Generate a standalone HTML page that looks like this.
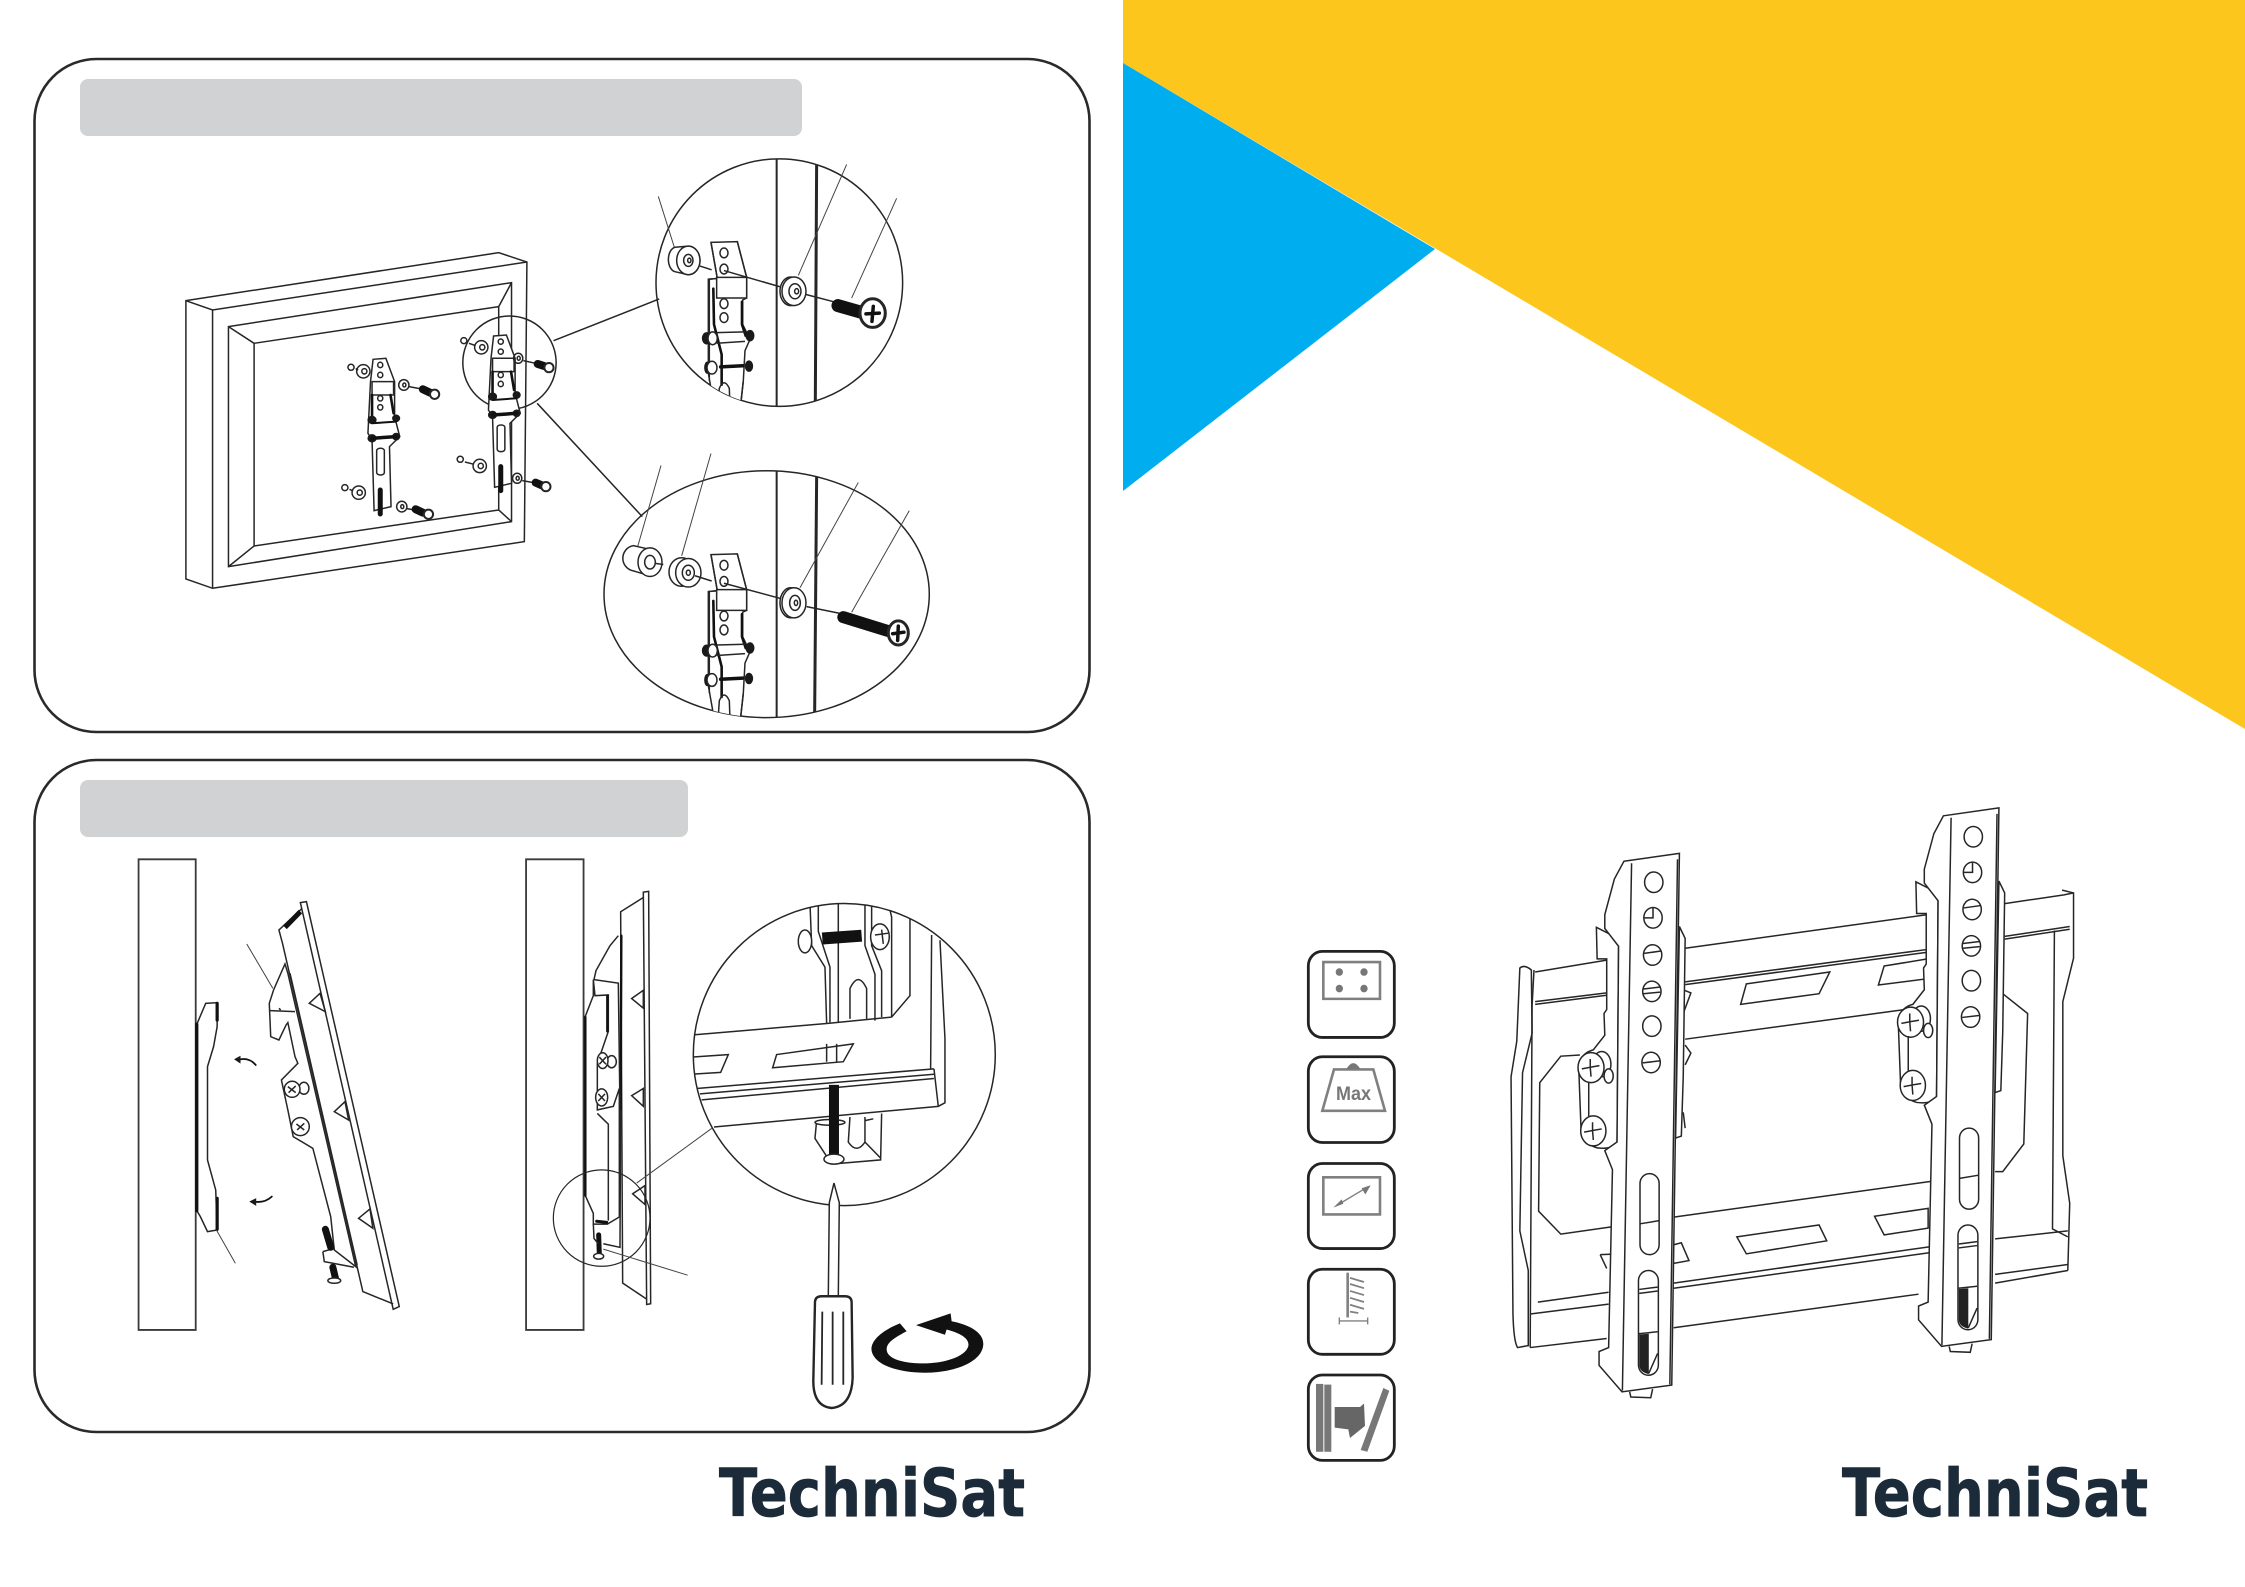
<!DOCTYPE html>
<html lang="en"><head><meta charset="utf-8"><title>Wall mount instructions</title>
<style>
html,body{margin:0;padding:0;background:#fff}
svg{display:block}
svg *{vector-effect:non-scaling-stroke}
.l{fill:none;stroke:#262626;stroke-width:1.5}
.w{fill:#fff;stroke:#262626;stroke-width:1.5}
.t{fill:none;stroke:#444;stroke-width:1}
.k{fill:none;stroke:#111;stroke-linecap:round}
.b{fill:#1a1a1a;stroke:#1a1a1a;stroke-width:1}
.g{fill:none;stroke:#808080;stroke-width:2.6}
.f{fill:#777;stroke:none}
.logo{font-family:"DejaVu Sans",sans-serif;font-weight:700;font-size:66px;fill:#1c2b39;stroke:#1c2b39;stroke-width:.8}
</style></head><body>
<svg width="2245" height="1587" viewBox="0 0 2245 1587" xmlns="http://www.w3.org/2000/svg">
<defs>
<clipPath id="c1"><ellipse cx="598" cy="379" rx="370" ry="329"/></clipPath>
<clipPath id="c2"><ellipse cx="560" cy="1207" rx="488" ry="328"/></clipPath>
<clipPath id="c3"><ellipse cx="1003" cy="545" rx="453" ry="423"/></clipPath>

<g id="sb">
<path class="w" d="M670 618L695 615L712 685L712 790L722 850L702 880L705 1060L672 1072L668 860L660 840L665 685Z"/>
<rect class="w" x="668" y="685" width="42" height="40"/>
<ellipse class="l" cx="684" cy="635" rx="5" ry="8"/><ellipse class="l" cx="684" cy="665" rx="5" ry="8"/>
<ellipse class="l" cx="684" cy="735" rx="5" ry="8"/><ellipse class="l" cx="684" cy="762" rx="5" ry="8"/>
<path class="k" style="stroke-width:2.6" d="M668 725L668 795M704 725L710 780"/>
<ellipse class="b" cx="668" cy="800" rx="8" ry="11"/><ellipse class="b" cx="715" cy="795" rx="7" ry="10"/>
<ellipse class="b" cx="668" cy="855" rx="8" ry="11"/><ellipse class="b" cx="715" cy="850" rx="7" ry="10"/>
<path class="k" style="stroke-width:2" d="M668 810L715 805"/><path class="k" style="stroke-width:3.5" d="M668 855L715 850"/>
<rect class="l" x="677" y="885" width="15" height="80" rx="7"/>
<path class="k" style="stroke-width:5" d="M684 1010L684 1082"/>
</g>

<g id="bb">
<path class="w" d="M393 272L472 270L500 365L500 420L488 425L488 490L510 530L495 560L490 640L480 720L405 720L385 620L385 370L412 368Z"/>
<path class="l" d="M393 272L412 368M472 270L500 365"/>
<ellipse class="l" cx="432" cy="300" rx="12" ry="13"/><ellipse class="l" cx="432" cy="343" rx="12" ry="13"/>
<rect class="w" x="410" y="365" width="90" height="55"/>
<path class="l" d="M385 370L410 368M388 370L388 640"/>
<path class="k" style="stroke-width:2.6" d="M400 395L402 490L425 570L425 650"/>
<ellipse class="l" cx="432" cy="435" rx="12" ry="13"/><ellipse class="l" cx="432" cy="472" rx="12" ry="13"/>
<path class="k" style="stroke-width:2.6" d="M486 430L486 490L497 520"/>
<ellipse class="b" cx="380" cy="527" rx="13" ry="15"/><ellipse class="w" cx="398" cy="527" rx="14" ry="17"/><ellipse class="b" cx="510" cy="520" rx="12" ry="14"/>
<path class="l" d="M410 512L495 510M410 540L495 535"/>
<ellipse class="b" cx="382" cy="605" rx="8" ry="15"/><ellipse class="w" cx="396" cy="605" rx="15" ry="17"/><ellipse class="b" cx="507" cy="601" rx="11" ry="14"/>
<path class="k" style="stroke-width:3.5" d="M422 603L488 600"/>
<path class="l" d="M415 700L418 660Q432 630 448 660L450 710M490 640L480 720"/>
</g>

<g id="bm">
<path class="w" d="M278 322L325 345L336 370L332 865Q320 885 280 880Q245 870 238 835L232 680Q235 640 270 632L300 595L298 540L305 530L305 402L280 402Z"/>
<path class="w" d="M350 155L495 135L475 1480L345 1497L285 1430L285 1395L310 1385L320 935L300 887L332 865L336 370L300 325L300 290L325 200Z"/>
<path class="l" d="M370 160L346 1494"/>
<path class="l" d="M490 150L470 1478"/>
<path class="w" d="M495 320L510 350L505 700L500 850L485 855Z"/>
<g class="l">
<ellipse cx="428" cy="208" rx="24" ry="26"/>
<ellipse cx="426" cy="298" rx="24" ry="26"/><path d="M426 272L426 298L402 298"/>
<ellipse cx="425" cy="392" rx="24" ry="26"/><path d="M403 388L447 382"/>
<ellipse cx="423" cy="484" rx="24" ry="26"/><path d="M401 478L445 473M401 490L445 486"/>
<ellipse cx="423" cy="572" rx="24" ry="26"/>
<ellipse cx="421" cy="664" rx="24" ry="26"/><path d="M399 665L443 660"/>
<rect x="392" y="945" width="50" height="205" rx="25"/><path d="M392 1072L442 1064"/>
<rect x="388" y="1190" width="52" height="265" rx="26"/><path d="M390 1238L438 1232M390 1248L438 1242M388 1350L438 1345M415 1450L438 1400"/>
</g>
<path d="M390 1352L415 1350L415 1452Q392 1448 390 1430Z" fill="#222"/>
<path class="l" d="M365 1497L368 1510L420 1512L425 1490"/>
<g class="l">
<ellipse class="w" cx="292" cy="668" rx="24" ry="32"/>
<ellipse class="w" cx="310" cy="698" rx="12" ry="18"/>
<ellipse class="w" cx="264" cy="677" rx="34" ry="38"/>
<path d="M240 680L262 676L264 700M262 676L262 655M262 676L286 672"/>
<path d="M258 712L258 800"/>
<ellipse class="w" cx="270" cy="837" rx="33" ry="38"/>
<path d="M246 840L268 836L270 860M268 836L268 815M268 836L292 832"/>
</g>
</g>
</defs>

<rect width="2245" height="1587" fill="#fff"/>
<polygon points="1123,0 2245,0 2245,729 1123,63" fill="#fcc61d"/>
<polygon points="1123,63 1435,249 1123,491" fill="#00aeef"/>

<rect x="34.500" y="59" width="1055" height="673" rx="62" fill="none" stroke="#2a2a2a" stroke-width="2.6"/>
<rect x="34.500" y="760" width="1055" height="672" rx="62" fill="none" stroke="#2a2a2a" stroke-width="2.6"/>
<rect x="80" y="79" width="722" height="57" rx="8" fill="#d1d2d3"/>
<rect x="80" y="780" width="608" height="57" rx="8" fill="#d1d2d3"/>

<!-- Frame -->
<g transform="translate(150,130) scale(.5128,.3333)">
<path class="l" d="M70 512L680 368L735 396L730 1235L122 1375L70 1347Z"/>
<path class="l" d="M70 512L122 540L735 396M122 540L122 1375"/>
<path class="l" d="M153 590L705 458L705 1175L153 1310Z"/>
<path class="l" d="M203 640L680 530L680 1140L203 1248Z"/>
<path class="l" d="M153 590L203 640M705 458L680 530M153 1310L203 1248M705 1175L680 1140"/>
<ellipse class="l" cx="701" cy="698" rx="91" ry="140"/>
<path class="l" d="M787 632L993 507M755 820L960 1160"/>
<use href="#sb"/>
<use href="#sb" transform="translate(-235,70)"/>
<g class="l">
<ellipse cx="612" cy="632" rx="6" ry="9"/><ellipse cx="646" cy="652" rx="13" ry="20"/><ellipse cx="648" cy="652" rx="5" ry="8"/>
<ellipse cx="718" cy="685" rx="9" ry="15"/><ellipse cx="719" cy="685" rx="3" ry="6"/>
<ellipse cx="605" cy="988" rx="6" ry="9"/><ellipse cx="643" cy="1008" rx="13" ry="20"/><ellipse cx="645" cy="1008" rx="5" ry="8"/>
<ellipse cx="716" cy="1045" rx="9" ry="15"/><ellipse cx="717" cy="1045" rx="3" ry="6"/>
<ellipse cx="392" cy="712" rx="6" ry="9"/><ellipse cx="416" cy="724" rx="13" ry="20"/><ellipse cx="418" cy="724" rx="5" ry="8"/>
<ellipse cx="495" cy="765" rx="10" ry="16"/><ellipse cx="496" cy="765" rx="3" ry="6"/>
<ellipse cx="380" cy="1073" rx="6" ry="9"/><ellipse cx="407" cy="1088" rx="13" ry="20"/><ellipse cx="409" cy="1088" rx="5" ry="8"/>
<ellipse cx="491" cy="1130" rx="10" ry="16"/><ellipse cx="492" cy="1130" rx="3" ry="6"/>
<path d="M622 640L635 647M728 692L752 700M614 996L632 1003M726 1052L748 1058M401 716L406 720M505 770L526 776M389 1078L396 1083M501 1136L516 1140"/>
</g>
<g class="k" style="stroke-width:8">
<path d="M756 702L768 708"/><path d="M752 1058L764 1066"/><path d="M532 778L546 788"/><path d="M518 1138L532 1148"/>
</g>
<g class="w" style="stroke-width:2">
<ellipse cx="778" cy="713" rx="9" ry="14"/><ellipse cx="772" cy="1070" rx="9" ry="14"/><ellipse cx="555" cy="793" rx="9" ry="14"/><ellipse cx="543" cy="1153" rx="9" ry="14"/>
</g>
</g>

<!-- Detail circles -->
<g transform="translate(580,140) scale(.3333,.3763)">
<ellipse class="l" cx="598" cy="379" rx="370" ry="329"/>
<g clip-path="url(#c1)">
<path class="l" style="stroke-width:2" d="M590 50L590 708"/>
<path class="l" style="stroke-width:3" d="M710 60L706 700"/>
<use href="#bb"/>
</g>
<path class="t" d="M235 150L283 285M800 65L655 360M950 155L815 420"/>
<g class="l">
<path class="w" d="M285 285L325 282A35 38 0 0 1 325 358L285 350A24 33 0 0 1 285 285Z"/>
<ellipse class="w" cx="325" cy="320" rx="35" ry="38"/><ellipse cx="325" cy="320" rx="14" ry="16"/><ellipse cx="328" cy="320" rx="5" ry="6"/>
<path d="M360 335L395 345M432 347L600 390M675 410L762 430"/>
<ellipse class="w" cx="632" cy="402" rx="32" ry="38"/>
<ellipse class="w" cx="642" cy="402" rx="36" ry="38"/><ellipse cx="645" cy="402" rx="18" ry="20"/><ellipse cx="650" cy="402" rx="6" ry="7"/>
</g>
<path class="k" style="stroke-width:13" d="M774 440L845 458"/>
<ellipse class="w" style="stroke-width:3" cx="878" cy="460" rx="38" ry="38"/>
<path class="k" style="stroke-width:3.5" d="M858 462L898 460M880 442L876 482"/>

<ellipse class="l" cx="560" cy="1207" rx="488" ry="328"/>
<g clip-path="url(#c2)">
<path class="l" style="stroke-width:2" d="M590 880L590 1535"/>
<path class="l" style="stroke-width:3" d="M710 895L704 1525"/>
<use href="#bb" transform="translate(0,830)"/>
</g>
<path class="t" d="M243 865L170 1090M393 833L305 1105M835 910L660 1190M988 985L815 1255"/>
<g class="l">
<path class="w" d="M160 1078L210 1088A36 40 0 0 1 210 1158L160 1145A38 34 0 0 1 160 1078Z"/>
<ellipse class="w" cx="210" cy="1122" rx="36" ry="38"/><ellipse cx="210" cy="1122" rx="16" ry="18"/><path d="M226 1125L250 1128"/>
<ellipse class="w" cx="305" cy="1148" rx="38" ry="38"/>
<ellipse class="w" cx="325" cy="1150" rx="38" ry="38"/><ellipse cx="325" cy="1150" rx="18" ry="20"/><ellipse cx="325" cy="1150" rx="6" ry="7"/>
<path d="M345 1158L395 1172M432 1178L600 1218M680 1240L780 1258"/>
<ellipse class="w" cx="632" cy="1230" rx="32" ry="40"/>
<ellipse class="w" cx="642" cy="1230" rx="36" ry="40"/><ellipse cx="645" cy="1230" rx="16" ry="20"/><ellipse cx="648" cy="1230" rx="5" ry="7"/>
</g>
<path class="k" style="stroke-width:12" d="M790 1268L925 1305"/>
<ellipse class="w" style="stroke-width:3" cx="955" cy="1310" rx="30" ry="32"/>
<path class="k" style="stroke-width:3.5" d="M938 1312L972 1308M955 1292L953 1330"/>
</g>

<!-- Left side view -->
<g transform="translate(120,840) scale(.35714,.3333)">
<rect x="52" y="58" width="160" height="1412" fill="#fff" stroke="#3a3a3a" stroke-width="1.8"/>
<rect x="1137" y="58" width="161" height="1412" fill="#fff" stroke="#3a3a3a" stroke-width="1.8"/>
<path class="l" d="M215 553L240 490L272 488L272 560L262 620L245 680L245 960L268 1050L272 1170L245 1175L225 1130L215 1112"/>
<path class="k" style="stroke-width:3.2" d="M215 553L215 1112M272 490L272 540M272 1075L272 1168"/>
<path class="k" style="stroke-width:1.8" d="M380 675Q360 650 330 660M425 1070Q405 1090 375 1085"/>
<path class="b" d="M322 658L336 650L336 668ZM365 1085L380 1077L380 1095Z"/>
<path class="t" d="M355 312L428 445M270 1170L323 1270"/>
<path class="w" d="M505 188L522 185L782 1400L765 1408Z"/>
<path class="l" d="M510 205L445 270L455 310L680 1355L765 1392"/>
<path class="k" style="stroke-width:5;stroke-linecap:butt" d="M462 262L505 215"/>
<path class="w" d="M462 372L430 450L418 490L422 590L445 600L465 555L470 548L490 650L498 670L452 720L470 810L485 890L540 925L590 1130L600 1230L660 1280L470 400Z"/>
<path class="l" d="M476 400L664 1275"/>
<g class="l">
<path d="M420 512L490 515M445 505L450 510"/>
<path d="M530 490L560 460L575 515Z"/><path d="M600 815L630 785L640 840Z"/><path d="M668 1135L700 1107L708 1165Z"/>
<ellipse cx="515" cy="745" rx="14" ry="18"/>
<ellipse class="w" cx="482" cy="748" rx="22" ry="24"/>
<path d="M470 740L492 758M492 738L472 758"/>
<ellipse class="w" cx="505" cy="860" rx="25" ry="27"/>
<path d="M494 852L516 870M516 850L496 870"/>
<path d="M568 1235L572 1265L655 1282M568 1235L600 1225"/>
</g>
<path class="k" style="stroke-width:7" d="M575 1168L590 1222"/>
<path class="k" style="stroke-width:7" d="M596 1282L604 1318"/>
<ellipse class="w" cx="600" cy="1322" rx="18" ry="8"/>
</g>

<!-- Right side view -->
<g transform="translate(510,860) scale(.3333,.357)">
<path class="w" d="M400 90L416 88L422 1243L410 1245Z"/>
<path class="l" d="M400 105L332 145L338 1185L410 1230"/>
<path class="k" style="stroke-width:2.4" d="M334 212L332 700"/>
<path class="l" d="M325 212L300 240L258 310L252 335L325 345L330 700M332 700L330 1085L280 1075"/>
<path class="w" d="M250 335L255 380L295 378L295 480L262 570L262 700L310 690L328 640L328 1000L292 1020L250 1020L250 990L226 940L225 440L250 380Z"/>
<path class="k" style="stroke-width:2.4" d="M226 440L226 940M292 380L292 480"/>
<path class="l" d="M262 710L295 740L295 1010"/>
<g class="l">
<path d="M365 388L400 365L400 415Z"/><path d="M365 660L400 640L400 690Z"/><path d="M368 935L405 912L405 965Z"/>
<ellipse cx="305" cy="565" rx="14" ry="17"/>
<ellipse class="w" cx="278" cy="562" rx="16" ry="22"/><path d="M268 552L288 572M288 552L268 572"/>
<ellipse class="w" cx="275" cy="665" rx="18" ry="24"/><path d="M265 655L285 675M285 655L265 675"/>
</g>
<ellipse class="l" style="stroke-width:1.200" cx="275" cy="1003" rx="145" ry="135"/>
<path class="k" style="stroke-width:3" d="M260 1012L290 1015"/>
<path class="k" style="stroke-width:5" d="M266 1050L268 1105"/>
<ellipse class="w" cx="266" cy="1110" rx="15" ry="8"/>
<path class="l" d="M250 1020L252 1060L265 1075"/>
<path class="t" d="M280 1090L533 1163M380 905L605 752"/>

<ellipse class="l" cx="1003" cy="545" rx="453" ry="423"/>
<g clip-path="url(#c3)">
<g class="l">
<path d="M900 120L905 240L945 300L950 458M925 120L925 200L960 300L960 455M985 120L985 455"/>
<path d="M1065 120L1065 240L1095 320L1095 450M1085 120L1085 240L1115 310L1115 440"/>
<path d="M1020 445L1020 360Q1045 310 1070 360L1070 445"/>
<path d="M1135 120L1145 160L1145 440M1145 440L1200 380L1200 160"/>
<path d="M550 490L950 458M950 458L1145 440"/>
<path d="M1265 210L1262 585M1290 225L1305 500L1305 680L1285 690L612 748M1272 585L1285 690"/>
<path d="M1272 585L560 640M1272 600L570 655M1272 612L575 672"/>
<path d="M800 545L1030 515L1000 565L788 582Z"/>
<path d="M545 552L655 545L632 595L545 600"/>
<path d="M950 515L950 565M980 515L980 565"/>
<path d="M920 730L915 780L950 830M1020 720L1015 790Q1040 825 1065 790L1065 720M1115 710L1112 840L985 850M1065 790L1112 835M1065 730L1090 725"/>
<ellipse class="w" cx="885" cy="228" rx="20" ry="32"/>
<ellipse class="w" cx="1110" cy="215" rx="28" ry="36"/>
<path d="M1095 210L1135 205M1115 195L1120 235"/>
<ellipse class="w" cx="960" cy="735" rx="45" ry="8"/>
</g>
</g>
<path class="k" style="stroke-width:12;stroke-linecap:butt" d="M937 220L1055 212"/>
<path class="k" style="stroke-width:10;stroke-linecap:butt" d="M972 630L972 825"/>
<ellipse class="w" cx="972" cy="838" rx="30" ry="14"/>
<path class="w" d="M972 905L988 960L985 1222L955 1222L958 960Z"/>
<path class="l" style="stroke-width:2.400" d="M915 1240Q915 1222 935 1222L1005 1222Q1025 1222 1025 1240L1028 1450Q1025 1530 965 1535Q910 1530 910 1460Z"/>
<path class="l" style="stroke-width:1.800" d="M937 1265L935 1470M968 1265L968 1470M1000 1265L1000 1470"/>
<path d="M1170 1298C1110 1320 1080 1350 1085 1375C1095 1420 1180 1438 1260 1436C1350 1432 1420 1400 1420 1355C1420 1320 1370 1300 1325 1292L1322 1270L1218 1303L1305 1330L1310 1315C1350 1325 1380 1340 1375 1362C1365 1395 1290 1412 1230 1410C1170 1408 1130 1395 1130 1370C1130 1350 1160 1335 1190 1320Z" fill="#111"/>
</g>

<!-- Icons -->
<g transform="translate(1290,930) scale(.3333,.3444)">
<g fill="#fff" stroke="#222" stroke-width="2.800">
<rect x="55" y="62" width="258" height="250" rx="42"/>
<rect x="55" y="368" width="258" height="249" rx="42"/>
<rect x="55" y="678" width="258" height="247" rx="42"/>
<rect x="55" y="985" width="258" height="247" rx="42"/>
<rect x="55" y="1292" width="258" height="248" rx="42"/>
</g>
<rect class="g" x="100" y="93" width="170" height="107"/>
<g class="f"><ellipse cx="148" cy="122" rx="11" ry="11"/><ellipse cx="222" cy="122" rx="11" ry="11"/><ellipse cx="148" cy="170" rx="11" ry="11"/><ellipse cx="222" cy="170" rx="11" ry="11"/></g>
<path class="g" d="M132 405L250 405L285 525L97 525Z"/>
<path class="f" d="M168 405Q190 368 212 405Z"/>
<rect class="g" x="100" y="718" width="170" height="108"/>
<path class="g" style="stroke-width:1.400" d="M140 800L235 745"/>
<path class="f" d="M130 806L155 782L160 795ZM242 741L215 750L226 768Z"/>
<path class="g" d="M173 995L173 1125"/>
<path class="g" style="stroke-width:1.800" d="M180 1010L222 1022M180 1028L222 1040M180 1048L222 1060M180 1068L222 1080M180 1088L222 1100M180 1108L205 1112"/>
<path class="g" style="stroke-width:1.400" d="M148 1135L233 1135M148 1125L148 1145M233 1125L233 1145"/>
<rect class="f" x="78" y="1318" width="22" height="197"/>
<rect class="f" x="103" y="1320" width="21" height="195"/>
<path class="f" style="fill:#666" d="M134 1385L210 1385L222 1375L225 1440L180 1475L175 1450L134 1445Z"/>
<path class="f" d="M280 1330L298 1338L232 1515L212 1510Z"/>
</g>
<text x="1336" y="1100" font-family="Liberation Sans, sans-serif" font-weight="700" font-size="19" fill="#777" textLength="35" lengthAdjust="spacingAndGlyphs">Max</text>

<!-- Main bracket -->
<g transform="translate(1490,800) scale(.38265,.39535)">
<path class="w" d="M78 425Q90 415 108 430L110 590L85 690L78 1090L100 1190L100 1380L72 1385Q62 1370 60 1300L55 700L70 610Z"/>
<path class="l" d="M118 435L305 405M510 375L1143 290M1345 262L1500 240L1525 235"/>
<path class="l" d="M118 510L305 488M118 517L305 494M510 460L1143 378M510 467L1143 385M1345 345L1515 320M1345 352L1515 327"/>
<path class="l" d="M510 605L1085 530"/>
<path class="l" d="M480 1055L1150 965"/>
<path class="l" d="M125 1270L310 1245M480 1222L1150 1130M480 1235L1150 1145M105 1300L310 1275M1320 1110L1510 1090M1320 1200L1510 1175"/>
<path class="l" d="M105 1385L305 1362M480 1335L1120 1250M1320 1222L1510 1190"/>
<path class="l" d="M115 430L110 520L105 1385"/>
<path class="l" d="M1495 228L1525 235L1525 400L1497 510L1497 900L1515 1020L1510 1190"/>
<path class="l" d="M1475 330L1470 1085L1510 1105"/>
<path class="l" d="M235 645L185 648L130 715L127 1040L185 1098L315 1080"/>
<path class="l" d="M1340 490L1405 540L1395 870L1340 940L1320 940"/>
<path class="l" d="M670 465L888 435L860 490L655 517Z"/>
<path class="l" d="M1030 420L1143 402L1143 452L1015 468Z"/>
<path class="l" d="M645 1105L860 1075L880 1115L670 1148Z"/>
<path class="l" d="M1005 1053L1145 1033L1145 1083L1030 1100Z"/>
<path class="l" d="M288 1150L340 1148M288 1150L305 1185M480 1125L500 1120L520 1165L480 1172"/>
<path class="l" d="M505 480L525 488L505 540M510 620L525 640L510 670M505 790L510 830"/>
<use href="#bm"/>
<use href="#bm" transform="translate(835,-115)"/>
</g>

<text class="logo" x="719" y="1516" textLength="306" lengthAdjust="spacingAndGlyphs">TechniSat</text>
<text class="logo" x="1842" y="1516" textLength="306" lengthAdjust="spacingAndGlyphs">TechniSat</text>
</svg>
</body></html>
